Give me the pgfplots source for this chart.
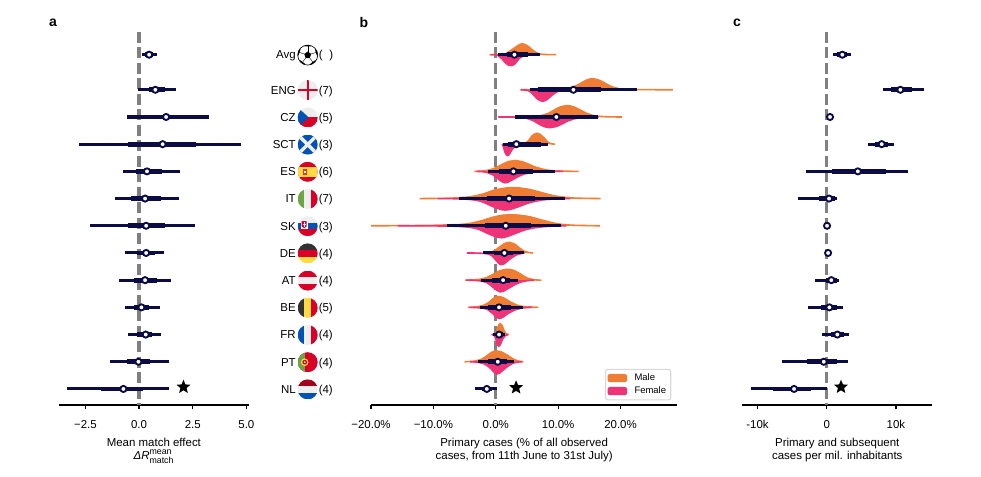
\documentclass[border=0pt]{standalone}
\usepackage{fontspec}
\setmainfont{Liberation Sans}
\usepackage{pgfplots}
\usepackage{pgfplotstable}
\pgfplotsset{compat=1.18}
\usetikzlibrary{shapes.geometric,calc}

\definecolor{navy}{HTML}{0B0B45}
\definecolor{male}{HTML}{F07D34}
\definecolor{female}{HTML}{EF3377}
\definecolor{fgray}{HTML}{EEEEEE}
\definecolor{fred}{HTML}{D80027}
\definecolor{fblue}{HTML}{0052B4}
\definecolor{fyellow}{HTML}{FFDA44}
\definecolor{fdark}{HTML}{333333}
\definecolor{fgreen}{HTML}{6DA544}
\definecolor{fmaroon}{HTML}{A2001D}

% row lo95 lo68 med hi68 hi95
\pgfplotstableread{
row   lo95  lo68  med   hi68  hi95
12.29 0.14  0.28  0.47  0.67  0.82
11    -0.03 0.44  0.76  1.21  1.72
10    -0.54 0.44  1.26  2.16  3.25
9     -2.81 -0.50 1.10  2.64  4.76
8     -0.76 -0.16 0.37  1.09  1.90
7     -1.13 -0.39 0.28  1.01  1.85
6     -2.30 -0.53 0.33  1.21  2.61
5     -0.65 -0.08 0.33  0.73  1.18
4     -0.93 -0.25 0.28  0.82  1.51
3     -0.65 -0.22 0.11  0.48  0.98
2     -0.50 -0.08 0.31  0.62  1.04
1     -1.35 -0.57 -0.03 0.53  1.40
0     -3.34 -1.77 -0.73 0.17  1.41
}\tableA
\pgfplotstableread{
row   lo95  lo68  med   hi68  hi95
12.29 0.32  1.76  3.00  5.24  7.10
11    5.50  6.84  12.45 16.80 22.60
10    3.15  6.30  9.72  13.25 16.45
9     1.12  2.00  3.30  7.20  8.40
8     -1.23 0.59  2.83  5.93  9.46
7     -5.88 -1.44 2.14  6.30  11.10
6     -7.80 -1.70 1.60  5.66  10.40
5     -1.98 -0.30 1.39  2.80  4.54
4     -2.40 -0.64 1.18  2.30  3.53
3     -2.50 -1.20 0.53  2.40  4.43
2     -0.40 0.00  0.53  1.10  1.50
1     -2.80 -1.17 0.32  1.76  2.95
0     -3.40 -2.20 -1.44 -0.64 0.16
}\tableB
\pgfplotstableread{
row   lo95  lo68  med   hi68  hi95
12.29 0.87  1.54  2.26  2.90  3.50
11    8.10  9.25  10.65 12.30 14.07
10    0.30  0.40  0.48  0.55  0.70
9     6.00  7.00  7.95  8.90  9.70
8     -3.00 0.70  4.50  8.50  11.80
7     -4.20 -1.10 0.34  1.20  1.54
6     0.00  0.02  0.05  0.08  0.10
5     0.10  0.15  0.20  0.25  0.30
4     -1.70 -0.15 0.67  1.45  1.83
3     -2.70 -0.87 0.39  1.54  2.40
2     -0.67 0.58  1.54  2.50  3.20
1     -6.40 -2.80 -0.43 1.54  3.13
0     -11.00 -7.70 -4.72 -2.30 0.10
}\tableC

\pgfplotsset{
  panel/.style={
    scale only axis, height=279.75pt, ymin=-0.59, ymax=13.125,
    axis y line=none, axis x line*=bottom, clip=false,
    axis line style={-, line width=0.95pt, black},
    tick align=outside, xtick pos=bottom, ytick=\empty,
    major tick length=3.3pt,
    tick style={line width=0.95pt, black},
    ticklabel style={font=\fontsize{8.6}{10}\selectfont},
    xticklabel style={yshift=-4.4pt, text height=6.5pt, text depth=0pt},
    xlabel style={font=\fontsize{8.6}{9.8}\selectfont, align=center, yshift=-0.4pt},
    anchor=south west,
  },
  err/.style={forget plot, only marks, mark=none,
    error bars/.cd, x dir=both, x explicit, error mark=none,
    error bar style={navy, line width=#1}},
}
\pgfdeclareplotmark{fstar}{\node[star, star points=5, star point ratio=2.25, fill=black, draw=none,
  inner sep=0pt, minimum size=11pt]{};}

% thin and thick interval, then the median
\newcommand\intervals[1]{%
  \addplot[err=2.3pt] table[x=med, y=row,
    x error plus expr=\thisrow{hi95}-\thisrow{med},
    x error minus expr=\thisrow{med}-\thisrow{lo95}] {#1};
  \addplot[err=3.6pt] table[x=med, y=row,
    x error plus expr=\thisrow{hi68}-\thisrow{med},
    x error minus expr=\thisrow{med}-\thisrow{lo68}] {#1};
  \addplot[forget plot, only marks, mark=*, mark size=2.3pt,
    mark options={fill=white, draw=navy, line width=1.4pt}] table[x=med, y=row] {#1};
}
\newcommand\zeroline{\addplot[forget plot, color=gray, line width=2.4pt,
  dash pattern=on 8.2pt off 3.4pt] coordinates {(0,13.125) (0,-0.59)};}
\newcommand\starat[2]{\addplot[forget plot, only marks, mark=fstar] coordinates {(#1,#2)};}
% half violins: x, height above or below the row
\newcommand\up[2]{\addplot[forget plot, smooth, tension=0.7, fill=male, draw=male, line width=1.2pt,
  y filter/.expression={#1+y}] coordinates {#2};}
\newcommand\dn[2]{\addplot[forget plot, smooth, tension=0.7, fill=female, draw=female, line width=1.2pt,
  y filter/.expression={#1-y}] coordinates {#2};}

% flags, unit circle at pixel position
\newcommand\rowlab[4]{%
  \node[anchor=base east, inner sep=0pt, font=\fontsize{8.6}{10}\selectfont] at (296,#1+4.4) {#2};
  \node[anchor=base west, inner sep=0pt, font=\fontsize{8.6}{10}\selectfont] at (318.5,#1+4.4) {(#3)};
  \begin{scope}[shift={(307.7,#1+0.4)}, x=7.5pt, y=7.5pt]
    \clip (0,0) circle (1);
    #4
  \end{scope}}
\newcommand\hbands[3]{\fill[#1] (-1,1) rectangle (1,.33); \fill[#2] (-1,.33) rectangle (1,-.33); \fill[#3] (-1,-.33) rectangle (1,-1);}
\newcommand\vbands[3]{\fill[#1] (-1,1) rectangle (-.33,-1); \fill[#2] (-.33,1) rectangle (.33,-1); \fill[#3] (.33,1) rectangle (1,-1);}

\begin{document}
\begin{tikzpicture}
\path[use as bounding box] (0,0) rectangle (735.75pt,357.75pt);

% panel a
\begin{axis}[panel, at={(44.25pt,54pt)}, width=142.3pt,
    xmin=-3.73, xmax=5.11,
    xtick={-2.5,0,2.5,5}, xticklabels={−2.5,0.0,2.5,5.0},
    xlabel={Mean match effect\\\textit{ΔR}$^{\mbox{\fontsize{6.6}{7}\selectfont mean}}_{\mbox{\fontsize{6.6}{7}\selectfont match}}$}]
\zeroline
\intervals{\tableA}
\starat{2.07}{0.07}
\end{axis}

% panel b
\begin{axis}[panel, at={(278.25pt,54pt)}, width=229.7pt,
    xmin=-20, xmax=29.1,
    xtick={-20,-10,0,10,20}, xticklabels={−20.0\%,−10.0\%,0.0\%,10.0\%,20.0\%},
    xlabel={Primary cases (\% of all observed\\cases, from 11th June to 31st July)},
    legend style={at={(0.764,0.0)}, anchor=south west, yshift=3.5pt,
      font=\fontsize{7.1}{8.5}\selectfont, draw=black!15, line width=0.8pt, rounded corners=1.5pt,
      row sep=-0.9pt, inner xsep=1.5pt, inner ysep=1.2pt},
    legend cell align=left]
\zeroline
% Avg
\up{12.29}{(-1,0)(1,.01)(1.76,.06)(2.83,.22)(3.6,.34)(4.33,.4)(5.24,.3)(6.05,.14)(7.1,.02)(8.2,.005)(9.67,0)}
\dn{12.29}{(-.7,0)(.3,.02)(1,.15)(1.7,.33)(2.4,.4)(3.1,.33)(3.8,.13)(4.6,.02)(5.5,0)}
% ENG
\up{11}{(4,0)(8,.01)(11,.02)(12.5,.1)(13.5,.22)(14.5,.35)(15.2,.4)(16.2,.38)(17.3,.27)(18.5,.12)(19.8,.04)(21,.01)(24,.005)(28.4,0)}
\dn{11}{(4,0)(5.2,.03)(6,.17)(6.8,.36)(7.4,.42)(8.2,.36)(9,.2)(9.8,.07)(10.8,.01)(12,0)}
% CZ
\up{10}{(.43,0)(4,.005)(6,.02)(7.5,.06)(8.5,.14)(9.5,.27)(10.5,.38)(11.4,.42)(12.5,.37)(13.5,.26)(14.5,.14)(15.5,.06)(16.8,.02)(18,.005)(20.2,0)}
\dn{10}{(.43,0)(3,.005)(5,.05)(6,.13)(7,.27)(8,.37)(8.7,.39)(9.5,.36)(10.5,.27)(11.5,.15)(12.5,.07)(13.5,.02)(15,.005)(16.5,0)}
% SCT
\up{9}{(1.1,0)(4,.005)(4.8,.03)(5.3,.14)(5.8,.3)(6.57,.4)(7.2,.34)(7.8,.22)(8.3,.08)(8.8,.02)(9.5,0)}
\dn{9}{(1,0)(1.2,.08)(1.5,.3)(1.87,.42)(2.2,.36)(2.6,.2)(3.1,.08)(3.6,.02)(4.2,0)}
% ES
\up{8}{(-3.42,0)(-1.5,.03)(0,.13)(1,.25)(2,.36)(3.1,.4)(4.2,.36)(5.2,.27)(6.2,.17)(7.2,.1)(8.5,.04)(10,.015)(11.5,.005)(13.3,0)}
\dn{8}{(-3,0)(-1.5,.03)(-.5,.12)(.5,.3)(1.5,.42)(2.5,.33)(3.5,.2)(4.5,.1)(5.5,.05)(7,.02)(9,.005)(10.8,0)}
% IT
\up{7}{(-12.2,0)(-8,.01)(-6,.03)(-4,.07)(-2,.17)(0,.32)(2.5,.4)(5,.35)(7,.24)(9,.12)(11,.05)(13,.015)(16.8,0)}
\dn{7}{(-9.3,0)(-6,.01)(-3.5,.05)(-2,.13)(-.5,.29)(1.5,.42)(3.5,.31)(5,.18)(7,.07)(9,.02)(11.9,0)}
% SK
\up{6}{(-20,0)(-12,.01)(-8,.03)(-5,.06)(-2.5,.17)(0,.34)(2.3,.4)(5,.35)(7.5,.2)(10,.07)(12,.025)(14,.01)(16.7,0)}
\dn{6}{(-15.7,0)(-8,.01)(-5,.04)(-3,.11)(-1.5,.26)(0,.4)(.9,.44)(2,.38)(3.5,.25)(5,.13)(7,.05)(9,.015)(11.3,0)}
% DE
\up{5}{(-1.9,0)(-.5,.05)(.5,.2)(1.3,.33)(2.2,.39)(3,.33)(3.8,.18)(4.5,.07)(5.2,.02)(6,0)}
\dn{5}{(-4.65,0)(-2.5,.01)(-1,.05)(-.2,.2)(.8,.43)(1.7,.33)(2.5,.18)(3.3,.07)(4.6,0)}
% AT
\up{4}{(-4.86,0)(-3,.02)(-1.5,.09)(-.5,.2)(.7,.35)(1.76,.4)(3,.35)(4,.22)(5,.08)(6,.02)(7.3,0)}
\dn{4}{(-4.8,0)(-3,.015)(-1.5,.08)(-.5,.25)(.7,.43)(1.8,.33)(3,.17)(4,.07)(5,.02)(6.2,0)}
% BE
\up{3}{(-4.43,0)(-3,.02)(-2,.07)(-1,.2)(-.2,.36)(.4,.4)(1.3,.34)(2.3,.2)(3.3,.09)(4.5,.03)(6.84,0)}
\dn{3}{(-4.2,0)(-2.5,.02)(-1.3,.08)(-.5,.22)(.4,.4)(1.2,.35)(2,.22)(3,.1)(4,.03)(5.8,0)}
% FR
\up{2}{(-.64,0)(-.1,.03)(.2,.15)(.5,.36)(.7,.4)(1,.34)(1.3,.15)(1.6,.04)(2.08,0)}
\dn{2}{(-.7,0)(-.2,.04)(.1,.25)(.43,.43)(.8,.33)(1.1,.16)(1.5,.05)(2,0)}
% PT
\up{1}{(-5,0)(-3.5,.02)(-2.5,.07)(-1.5,.2)(-.7,.34)(.05,.4)(.9,.36)(1.8,.25)(2.7,.11)(3.5,.03)(4.43,0)}
\dn{1}{(-4.1,0)(-2.8,.02)(-1.8,.08)(-.8,.25)(.16,.45)(1,.34)(1.9,.17)(2.8,.05)(3.5,.01)(4.2,0)}
\intervals{\tableB}
\starat{3.26}{0.05}
\addlegendimage{legend image code/.code={\fill[male] (0cm,-0.095cm) rectangle (0.49cm,0.095cm);}}
\addlegendentry{\hspace{3.5pt}Male}
\addlegendimage{legend image code/.code={\fill[female] (0cm,-0.095cm) rectangle (0.49cm,0.095cm);}}
\addlegendentry{\hspace{3.5pt}Female}
\end{axis}

% panel c
\begin{axis}[panel, at={(556.7pt,54pt)}, width=142.5pt,
    xmin=-12.2, xmax=15.26,
    xtick={-10,0,10}, xticklabels={-10k,0,10k},
    xlabel={Primary and subsequent\\cases per mil. inhabitants}]
\zeroline
\intervals{\tableC}
\starat{2.07}{0.07}
\end{axis}

% country column, in pixels of the page
\begin{scope}[x=0.75pt, y=-0.75pt, shift={(0,357.75pt)}]
  \node[anchor=base east, inner sep=0pt, font=\fontsize{8.6}{10}\selectfont] at (296,58.9) {Avg};
  \node[anchor=base west, inner sep=0pt, font=\fontsize{8.6}{10}\selectfont] at (318.5,58.9) {(\hspace{5pt})};
  \begin{scope}[shift={(307.7,55.1)}, x=7.5pt, y=7.5pt]
    \fill[white] (0,0) circle (1);
    \begin{scope}
      \clip (0,0) circle (1);
      \foreach \a in {90,162,234,306,18} {
        \draw[line width=.3pt] (\a:.32) -- (\a:.98);
        \fill ($(\a:.86)+(\a+90:.34)$) -- ($(\a:.86)+(\a-90:.34)$) -- (\a:1.2) -- cycle;
      }
      \fill (90:.36)--(162:.36)--(234:.36)--(306:.36)--(18:.36)--cycle;
    \end{scope}
    \draw[line width=.5pt] (0,0) circle (1);
  \end{scope}
  \rowlab{89.7}{ENG}{7}{\fill[fgray] (-1,-1) rectangle (1,1); \fill[fred] (-.12,-1) rectangle (.12,1); \fill[fred] (-1,-.12) rectangle (1,.12);}
  \rowlab{117}{CZ}{5}{\fill[fgray] (-1,0) rectangle (1,1); \fill[fred] (-1,-1) rectangle (1,0); \fill[fblue] (-1,1) -- (.1,0) -- (-1,-1) -- cycle;}
  \rowlab{144.2}{SCT}{3}{\fill[fblue] (-1,-1) rectangle (1,1); \draw[fgray, line width=2.6pt] (-.8,-.8) -- (.8,.8) (-.8,.8) -- (.8,-.8);}
  \rowlab{171.4}{ES}{6}{\fill[fred] (-1,-1) rectangle (1,1); \fill[fyellow] (-1,-.5) rectangle (1,.5); \fill[fred!75!fyellow] (-.5,-.3) rectangle (-.1,.3); \fill[white] (-.38,-.1) rectangle (-.22,.1);}
  \rowlab{198.6}{IT}{7}{\vbands{fgreen}{fgray}{fred}}
  \rowlab{225.8}{SK}{3}{\hbands{fgray}{fblue}{fred}\fill[white] (-.68,.58) rectangle (-.02,-.3); \fill[fred] (-.6,.5) -- (-.1,.5) -- (-.1,-.02) -- (-.35,-.2) -- (-.6,-.02) -- cycle; \fill[white] (-.4,.42) rectangle (-.3,-.1); \fill[white] (-.52,.25) rectangle (-.18,.15);}
  \rowlab{253}{DE}{4}{\hbands{fdark}{fred}{fyellow}}
  \rowlab{280.2}{AT}{4}{\hbands{fred}{fgray}{fred}}
  \rowlab{307.4}{BE}{5}{\vbands{fdark}{fyellow}{fred}}
  \rowlab{334.6}{FR}{4}{\vbands{fblue}{fgray}{fred}}
  \rowlab{361.8}{PT}{4}{\fill[fred] (-1,-1) rectangle (1,1); \fill[fgreen] (-1,-1) rectangle (-.3,1); \fill[fyellow] (-.3,0) circle (.38); \fill[fred] (-.3,0) circle (.24); \fill[fgray] (-.3,0) circle (.1);}
  \rowlab{389}{NL}{4}{\hbands{fmaroon}{fgray}{fblue}}
  \foreach \xx/\lt in {53/a,364/b,737/c} \node[font=\fontsize{10.5}{12}\bfseries\selectfont, inner sep=0pt] at (\xx,22.5) {\lt};
\end{scope}
\end{tikzpicture}
\end{document}
